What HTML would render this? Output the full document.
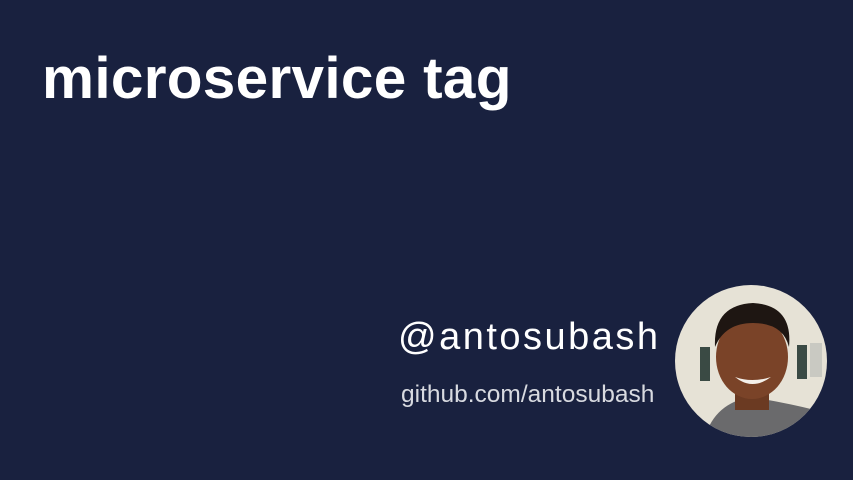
<!DOCTYPE html>
<html><head><meta charset="utf-8"><style>
html,body{margin:0;padding:0}
body{width:853px;height:480px;background:#19213f;position:relative;overflow:hidden;font-family:"Liberation Sans",sans-serif}
.t{position:absolute;left:42px;top:45px;font-size:58.5px;font-weight:bold;color:#fff;white-space:nowrap;letter-spacing:0.3px}
.h{position:absolute;left:398px;top:316px;font-size:38px;color:#fff;letter-spacing:2.5px;white-space:nowrap}
.g{position:absolute;left:401px;top:381px;font-size:24.5px;color:#d8dae0;white-space:nowrap}
svg{position:absolute;left:675px;top:285px}
</style></head><body>
<div class="t">microservice tag</div>
<div class="h">@antosubash</div>
<div class="g">github.com/antosubash</div>
<svg width="152" height="152" viewBox="0 0 152 152">
<defs><clipPath id="c"><circle cx="76" cy="76" r="76"/></clipPath></defs>
<g clip-path="url(#c)">
<rect width="152" height="152" fill="#e6e2d6"/>
<rect x="25" y="62" width="10" height="34" fill="#3a4a44"/>
<rect x="122" y="60" width="10" height="34" fill="#3a4a44"/>
<rect x="135" y="58" width="12" height="34" fill="#c9c9c2"/>
<path d="M30 152 Q40 118 76 112 Q112 118 140 125 L152 152 Z" fill="#6a6a6c"/>
<rect x="60" y="95" width="34" height="30" fill="#6b3a22"/>
<ellipse cx="77" cy="72" rx="36" ry="42" fill="#7a4328"/>
<path d="M40 62 Q38 20 78 18 Q118 20 114 62 Q108 38 78 38 Q50 38 40 62 Z" fill="#1e1612"/>
<path d="M60 92 Q77 106 96 92 Q77 98 60 92 Z" fill="#f4f0ea"/>
</g></svg>
</body></html>
